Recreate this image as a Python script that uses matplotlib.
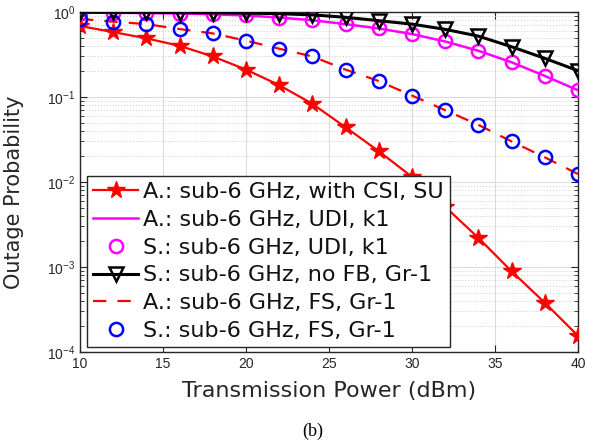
import numpy as np
import matplotlib
matplotlib.use("Agg")
import matplotlib.pyplot as plt
from matplotlib.ticker import LogLocator, NullFormatter

plt.rcParams['font.family'] = ['Liberation Sans', 'DejaVu Sans']
plt.rcParams['mathtext.fontset'] = 'custom'
plt.rcParams['mathtext.rm'] = 'Liberation Sans'
plt.rcParams['mathtext.it'] = 'Liberation Sans'

power = [10, 12, 14, 16, 18, 20, 22, 24, 26, 28, 30, 32, 34, 36, 38, 40]

csi_su = [0.685, 0.58, 0.49, 0.40, 0.30, 0.21, 0.138, 0.083, 0.044, 0.023,
          0.0115, 0.0051, 0.0022, 0.00089, 0.00038, 0.000155]
udi_k1 = [0.985, 0.98, 0.97, 0.96, 0.94, 0.91, 0.86, 0.80, 0.72, 0.64,
          0.55, 0.45, 0.35, 0.256, 0.177, 0.12]
no_fb = [0.995, 0.99, 0.99, 0.985, 0.98, 0.97, 0.955, 0.925, 0.866, 0.79,
         0.72, 0.625, 0.52, 0.39, 0.285, 0.204]
fs_gr1 = [0.83, 0.77, 0.72, 0.63, 0.56, 0.46, 0.37, 0.30, 0.21, 0.154,
          0.104, 0.070, 0.047, 0.030, 0.0195, 0.0124]

labels = ["A.: sub-6 GHz, with CSI, SU",
          "A.: sub-6 GHz, UDI, k1",
          "S.: sub-6 GHz, UDI, k1",
          "S.: sub-6 GHz, no FB, Gr-1",
          "A.: sub-6 GHz, FS, Gr-1",
          "S.: sub-6 GHz, FS, Gr-1"]

xticks = [10, 15, 20, 25, 30, 35, 40]

txt = '#262626'
wide = ['DejaVu Sans']
fig = plt.figure(figsize=(5.98, 4.43), dpi=100)
ax = fig.add_axes([80/598, 1-352/443, 498/598, 340/443])

h1, = ax.semilogy(power, csi_su, '-', color='red', lw=1.6, marker='*',
                  ms=13, mfc='red', mec='red', label=labels[0], zorder=3)
h2, = ax.semilogy(power, udi_k1, '-', color='magenta', lw=1.8,
                  label=labels[1], zorder=3)
h3, = ax.semilogy(power, udi_k1, 'o', color='magenta', ms=9.5, mfc='none',
                  mew=1.8, label=labels[2], zorder=3.5)
h4, = ax.semilogy(power, no_fb, '-', color='black', lw=2.2, marker='v',
                  ms=10.5, mfc='none', mec='black', mew=1.8,
                  label=labels[3], zorder=4)
h5, = ax.semilogy(power, fs_gr1, '--', color='red', lw=1.6,
                  dashes=(6, 5), label=labels[4], zorder=3)
h6, = ax.semilogy(power, fs_gr1, 'o', color='blue', ms=9.5, mfc='none',
                  mew=1.8, label=labels[5], zorder=3.5)

ax.set_xlim(10, 40)
ax.set_ylim(1e-4, 1)
ax.set_xticks(xticks)
ax.yaxis.set_major_locator(LogLocator(base=10, numticks=10))
ax.yaxis.set_minor_locator(LogLocator(base=10, subs=np.arange(2, 10), numticks=50))
ax.yaxis.set_minor_formatter(NullFormatter())

ax.grid(True, which='major', color='#dcdcdc', lw=0.8, ls='-')
ax.grid(True, which='minor', axis='y', color='#cccccc', lw=0.7, ls=(0, (1, 2)))
ax.set_axisbelow(True)

for s in ax.spines.values():
    s.set_color(txt)
    s.set_linewidth(1.0)
ax.tick_params(which='both', direction='in', top=True, right=True,
               colors=txt, labelsize=10)
ax.tick_params(which='major', length=5)
ax.tick_params(which='minor', length=3)

ax.set_xlabel('Transmission Power (dBm)', fontsize=16, color=txt,
              labelpad=7, family=wide)
ax.set_ylabel('Outage Probability', fontsize=15, color=txt,
              labelpad=3, family=wide)
ax.yaxis.set_label_coords(-0.112, 0.47)

leg = ax.legend(handles=[h1, h2, h3, h4, h5, h6], loc='lower left',
                bbox_to_anchor=(0.014, 0.015),
                prop={'family': wide, 'size': 16}, frameon=True,
                fancybox=False, edgecolor=txt, framealpha=1,
                handlelength=2.03, handletextpad=0.22, labelspacing=0.35,
                borderpad=0.27, borderaxespad=0)
leg.get_frame().set_linewidth(1.0)
leg.set_zorder(10)
for t in leg.get_texts():
    t.set_color('#111111')

fig.text(313/598, 1-431/443, '(b)', ha='center', va='center',
         fontsize=13, family='Liberation Serif', color='black')

fig.savefig('out.png', dpi=100)
